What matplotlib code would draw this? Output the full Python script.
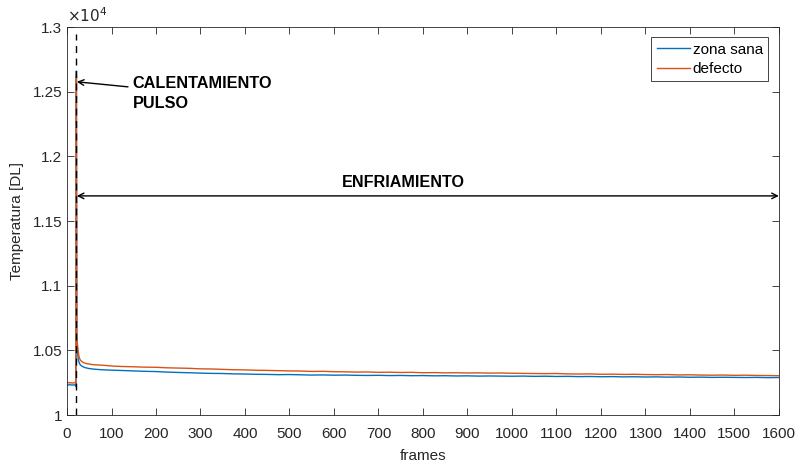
import matplotlib
matplotlib.use("Agg")
import matplotlib.pyplot as plt
from matplotlib.ticker import FuncFormatter, MultipleLocator

plt.rcParams["font.family"] = ["Liberation Sans", "DejaVu Sans"]

# ---------------------------------------------------------------------------
# Data
# ---------------------------------------------------------------------------
frames_early = [0, 3, 6, 9, 12, 15, 18, 19, 20, 21, 22, 23, 24, 25, 26, 28,
                30, 33, 36, 40, 45, 50, 55, 60, 70, 80, 90, 100]
frames_late = list(range(125, 1601, 25))
frames = frames_early + frames_late

sana_early = [10235, 10233, 10236, 10234, 10232, 10235, 10233, 10226, 10222,
              12660, 10580, 10510, 10470, 10440, 10420, 10400, 10388, 10380,
              10374, 10368, 10364, 10360, 10358, 10356, 10353, 10351, 10349,
              10348]
sana_late = [10345, 10342, 10339, 10337, 10333, 10330, 10328, 10325, 10323,
             10322, 10319, 10318, 10316, 10315, 10313, 10314, 10312, 10310,
             10311, 10309, 10310, 10308, 10307, 10308, 10306, 10307, 10305,
             10306, 10304, 10305, 10303, 10304, 10302, 10303, 10302, 10301,
             10302, 10300, 10301, 10299, 10300, 10298, 10299, 10297, 10298,
             10296, 10297, 10295, 10296, 10294, 10295, 10293, 10294, 10292,
             10293, 10292, 10291, 10292, 10290, 10291]
zona_sana = sana_early + sana_late

defecto_early = [10250, 10252, 10249, 10251, 10248, 10250, 10252, 10250,
                 10250, 12630, 10620, 10560, 10530, 10500, 10470, 10440,
                 10425, 10415, 10408, 10402, 10398, 10395, 10392, 10390,
                 10388, 10386, 10383, 10380]
defecto_late = [10376, 10374, 10371, 10370, 10366, 10364, 10362, 10358, 10357,
                10354, 10351, 10350, 10347, 10346, 10344, 10342, 10341, 10338,
                10339, 10336, 10335, 10333, 10334, 10331, 10332, 10330, 10331,
                10328, 10329, 10327, 10328, 10326, 10327, 10325, 10326, 10324,
                10323, 10322, 10321, 10322, 10319, 10318, 10319, 10316, 10317,
                10315, 10316, 10314, 10313, 10314, 10311, 10312, 10310, 10309,
                10310, 10308, 10309, 10307, 10306, 10305]
defecto = defecto_early + defecto_late

pulse_frame = 20
xlim = (0, 1600)
ylim = (10000, 13000)

# ---------------------------------------------------------------------------
# Figure
# ---------------------------------------------------------------------------
AX_COL = "#262626"

fig = plt.figure(figsize=(7.98, 4.67), dpi=100)
ax = fig.add_axes([0.084, 0.111, 0.892, 0.831])

ax.plot(frames, zona_sana, color="#0072BD", lw=1.0, label="zona sana")
ax.plot(frames, defecto, color="#D95319", lw=1.0, label="defecto")
ax.plot([pulse_frame, pulse_frame], [ylim[0], 12950], color="black",
        lw=1.0, ls=(0, (5, 4)))

ax.set_xlim(*xlim)
ax.set_ylim(*ylim)
ax.xaxis.set_major_locator(MultipleLocator(100))
ax.yaxis.set_major_locator(MultipleLocator(500))
ax.yaxis.set_major_formatter(FuncFormatter(lambda v, p: f"{v / 1e4:g}"))

ax.tick_params(direction="in", top=True, right=True, length=5,
               width=0.6, colors=AX_COL, labelsize=11, labelcolor=AX_COL)
ax.tick_params(axis="x", pad=8.5)
for sp in ax.spines.values():
    sp.set_color(AX_COL)
    sp.set_linewidth(0.6)

ax.set_xlabel("frames", fontsize=11, color=AX_COL, labelpad=6)
ax.set_ylabel("Temperatura [DL]", fontsize=11, color=AX_COL, labelpad=6)
ax.text(0.0, 1.005, r"$\times10^{4}$", transform=ax.transAxes,
        fontsize=11, color=AX_COL, ha="left", va="bottom")

leg = ax.legend(loc="upper right", fontsize=11, handlelength=2.2,
                handletextpad=0.15, borderpad=0.35, labelspacing=0.35,
                fancybox=False, framealpha=1, edgecolor=AX_COL,
                bbox_to_anchor=(0.985, 0.974), borderaxespad=0)
leg.get_frame().set_linewidth(0.6)

# Annotations
ax.annotate("", xy=(22, 12577), xytext=(137, 12538),
            arrowprops=dict(arrowstyle="->", color="black", lw=1.0,
                            shrinkA=0, shrinkB=0))
ax.text(147, 12625, "CALENTAMIENTO\nPULSO", fontsize=11.7, fontweight="bold",
        ha="left", va="top", linespacing=1.45)

ax.annotate("", xy=(22, 11695), xytext=(1600, 11695),
            arrowprops=dict(arrowstyle="<->", color="black", lw=1.0,
                            shrinkA=0, shrinkB=0))
ax.text(755, 11800, "ENFRIAMIENTO", fontsize=11.6, fontweight="bold",
        ha="center", va="center")

fig.savefig("out.png", dpi=100)
